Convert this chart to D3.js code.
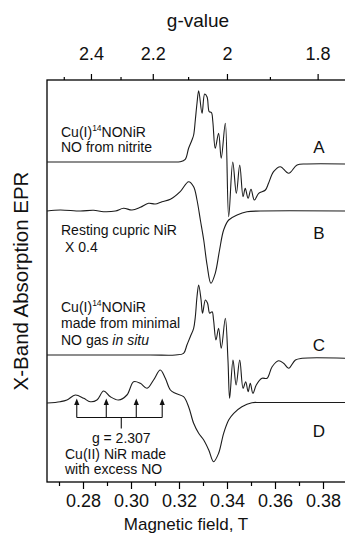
<!DOCTYPE html>
<html>
<head>
<meta charset="utf-8">
<script src="https://cdn.jsdelivr.net/npm/d3@7"></script>
<style>
  html, body { margin: 0; padding: 0; background: #fff; }
  svg { display: block; }
  text { font-family: "Liberation Sans", Arial, Helvetica, sans-serif; fill: #111; }
</style>
</head>
<body>
<svg id="chart" width="345" height="542"></svg>
<script>
// ---- data: magnetic field (T) and EPR signal (arb. units) ----
const fieldA = [0.2651,0.2955,0.3164,0.3205,0.3226,0.3240,0.3254,0.3261,0.3268,0.3275,
                0.3282,0.3296,0.3307,0.3317,0.3326,0.3335,0.3341,0.3351,0.3365,0.3376,
                0.3393,0.3407,0.3424,0.3439,0.3453,0.3467,0.3476,0.3488,0.3500,0.3514,
                0.3532,0.3560,0.3573,0.3594,0.3622,0.3657,0.3692,0.3733,0.3893];
const signalA = [0,0,0,0.03,0.27,1.37,2.2,2.7,4.2,5.87,
                 7.13,4.87,6.8,6.5,5.03,4.95,4.03,1.37,2.87,0.37,
                 3.87,-5.47,0,-3.13,-0.3,-3.47,-2.63,-3.63,-2.73,-3.8,
                 -3.13,-2.8,-2.13,-0.97,-0.47,-1.13,-0.3,-0.2,-0.2];

// resting cupric NiR, full amplitude (drawn scaled by scaleB)
const fieldB = [0.2651,0.2705,0.2789,0.2844,0.2886,0.2935,0.2969,0.3004,0.3039,0.3073,
                0.3101,0.3129,0.3164,0.3205,0.3240,0.3261,0.3275,0.3289,0.3303,0.3317,
                0.3333,0.3351,0.3369,0.3386,0.3407,0.3442,0.3483,0.3539,0.3893];
const signalB = [0,0.25,0,0.18,-0.18,0,0.68,0.25,0.93,1.93,
                 1.75,2.33,2.93,4.83,7.33,6.08,2.75,-2.25,-7.25,-13.5,
                 -18.08,-15.58,-9.75,-4.75,-2.25,-1.0,-0.18,0,0];
const scaleB = 0.4;

const fieldC = [0.2651,0.3081,0.3185,0.3219,0.3233,0.3247,0.3261,0.3268,0.3275,0.3282,
                0.3292,0.3298,0.3310,0.3319,0.3328,0.3338,0.3344,0.3354,0.3365,0.3376,
                0.3393,0.3404,0.3411,0.3425,0.3438,0.3453,0.3467,0.3478,0.3488,0.3497,
                0.3508,0.3522,0.3546,0.3567,0.3588,0.3615,0.3636,0.3657,0.3685,0.3713,0.3893];
const signalC = [0.1,0.1,0.1,0.27,1.1,1.93,2.77,3.93,5.93,7.1,
                 5.6,4.27,5.6,5.27,4.27,4.43,3.6,1.6,2.77,0.77,
                 3.77,-0.4,-4.23,-0.4,-2.9,-0.4,-3.23,-2.57,-3.57,-2.73,
                 -3.73,-2.9,-2.23,-2.23,-1.07,-0.47,-0.73,-1.23,-0.4,-0.23,-0.23];

const fieldD = [0.2651,0.2705,0.2733,0.2768,0.2803,0.2830,0.2858,0.2886,0.2914,0.2948,
                0.2983,0.3011,0.3039,0.3067,0.3094,0.3122,0.3143,0.3164,0.3185,0.3219,
                0.3240,0.3261,0.3282,0.3303,0.3324,0.3344,0.3365,0.3386,0.3407,0.3428,
                0.3462,0.3504,0.3539,0.3893];
const signalD = [-0.05,0.08,0.25,0.75,0.42,0.08,0.25,1.15,0.58,0.25,
                 0.75,2.08,1.92,1.42,2.25,3.25,2.42,1.25,0.92,0.58,
                 -0.42,-2.08,-3.08,-3.75,-4.75,-5.92,-5.08,-3.08,-1.75,-1.08,
                 -0.42,-0.02,0,0];

// vertical offsets of the stacked traces
const traceOffsets = [32.0, 27.1, 12.6, 7.95];
const traceLetters = ["A", "B", "C", "D"];

// Cu(II) hyperfine lines marked on trace D, and their g value
const hyperfineFields = [0.2774, 0.2897, 0.3022, 0.3130];
const gParallel = 2.307;

// axes
const fieldMajorTicks = [0.28, 0.30, 0.32, 0.34, 0.36, 0.38];
const fieldMinorTicks = [0.27, 0.29, 0.31, 0.33, 0.35, 0.37, 0.39];
const gMajorTicks = [2.4, 2.2, 2.0, 1.8];
const gMinorTicks = [2.5, 2.3, 2.1, 1.9];
const microwaveGHz = 9.517;

// ---- drawing ----
const svg = d3.select("#chart");
const frame = { left: 47, right: 347, top: 80, bottom: 482 };

const x = d3.scaleLinear().domain([0.265, 0.39]).range([frame.left, frame.right]);
const y = d3.scaleLinear().domain([0, 40.2]).range([frame.bottom, frame.top]);
const fieldFromG = g => 0.0714477 * microwaveGHz / g;

svg.append("defs").append("clipPath").attr("id", "plotclip")
  .append("rect")
  .attr("x", frame.left).attr("y", frame.top)
  .attr("width", frame.right - frame.left).attr("height", frame.bottom - frame.top);

const traces = [
  { f: fieldA, s: signalA, k: 1 },
  { f: fieldB, s: signalB, k: scaleB },
  { f: fieldC, s: signalC, k: 1 },
  { f: fieldD, s: signalD, k: 1 }
];

const plot = svg.append("g").attr("clip-path", "url(#plotclip)");
traces.forEach((t, i) => {
  const pts = t.f.map((f, j) => [f, traceOffsets[i] + t.k * t.s[j]]);
  const line = d3.line()
    .x(d => x(d[0])).y(d => y(d[1]))
    .curve(d3.curveCatmullRom.alpha(0.5));
  plot.append("path")
    .attr("d", line(pts))
    .attr("fill", "none")
    .attr("stroke", "#1c1c1c")
    .attr("stroke-width", 1.1)
    .attr("stroke-linejoin", "round");
});

// frame
svg.append("rect")
  .attr("x", frame.left).attr("y", frame.top)
  .attr("width", frame.right - frame.left).attr("height", frame.bottom - frame.top)
  .attr("fill", "none").attr("stroke", "#000").attr("stroke-width", 1.3);

// bottom axis (field)
const fmt2 = d3.format(".2f");
const bottomMajor = svg.append("g").attr("transform", `translate(0,${frame.bottom})`)
  .call(d3.axisBottom(x).tickValues(fieldMajorTicks).tickSize(7).tickSizeOuter(0).tickPadding(5).tickFormat(fmt2));
const bottomMinor = svg.append("g").attr("transform", `translate(0,${frame.bottom})`)
  .call(d3.axisBottom(x).tickValues(fieldMinorTicks).tickSize(4).tickSizeOuter(0).tickFormat(""));

// top axis (g value)
const gFmt = g => (Math.abs(g - 2) < 1e-9 ? "2" : d3.format(".1f")(g));
const topMajor = svg.append("g").attr("transform", `translate(0,${frame.top})`)
  .call(d3.axisTop(x).tickValues(gMajorTicks.map(fieldFromG)).tickSize(6).tickSizeOuter(0).tickPadding(14)
    .tickFormat((b, i) => gFmt(gMajorTicks[i])));
const topMinor = svg.append("g").attr("transform", `translate(0,${frame.top})`)
  .call(d3.axisTop(x).tickValues(gMinorTicks.map(fieldFromG)).tickSize(3).tickSizeOuter(0).tickFormat(""));

[bottomMajor, bottomMinor, topMajor, topMinor].forEach(g => {
  g.select(".domain").remove();
  g.selectAll(".tick line").attr("stroke", "#000").attr("stroke-width", 1.2);
  g.selectAll(".tick text")
    .attr("font-family", "Liberation Sans, Arial, sans-serif")
    .attr("font-size", 18).attr("fill", "#111");
});

// axis titles
svg.append("text").attr("x", 186).attr("y", 530).attr("text-anchor", "middle")
  .attr("font-size", 17).text("Magnetic field, T");
svg.append("text").attr("x", 198).attr("y", 27).attr("text-anchor", "middle")
  .attr("font-size", 19).text("g-value");
svg.append("text")
  .attr("transform", `translate(28,${(frame.top + frame.bottom) / 2}) rotate(-90)`)
  .attr("text-anchor", "middle").attr("font-size", 20.5).text("X-Band Absorption EPR");

// trace letters
const letterBaselines = [153, 239, 351, 437];
traceLetters.forEach((L, i) => {
  svg.append("text").attr("x", 319).attr("y", letterBaselines[i])
    .attr("text-anchor", "middle").attr("font-size", 17).text(L);
});

// sample descriptions
function cuNO(yBase) {
  const t = svg.append("text").attr("x", 61).attr("y", yBase).attr("font-size", 14);
  t.append("tspan").text("Cu(I)");
  t.append("tspan").attr("font-size", 8.5).attr("dy", -6).text("14");
  t.append("tspan").attr("dy", 6).text("NONiR");
}
function note(txt, xPos, yBase, anchor) {
  return svg.append("text").attr("x", xPos).attr("y", yBase)
    .attr("text-anchor", anchor || "start").attr("font-size", 14).text(txt);
}

cuNO(136.5);
note("NO from nitrite", 61, 151.5);

note("Resting cupric NiR", 61, 235);
note("X 0.4", 65, 251.5);

cuNO(311.5);
note("made from minimal", 61, 328);
const insitu = svg.append("text").attr("x", 61).attr("y", 345).attr("font-size", 14);
insitu.append("tspan").text("NO gas ");
insitu.append("tspan").attr("font-style", "italic").text("in situ");

// hyperfine stick diagram on trace D
const arrowTipY = 398.5, barY = 417.5, stemY = 428.5;
const centerField = (hyperfineFields[1] + hyperfineFields[2]) / 2;
const ann = svg.append("g").attr("stroke", "#111").attr("stroke-width", 1.1).attr("fill", "none");
ann.append("line")
  .attr("x1", x(hyperfineFields[0])).attr("x2", x(hyperfineFields[hyperfineFields.length - 1]))
  .attr("y1", barY).attr("y2", barY);
ann.append("line")
  .attr("x1", x(centerField)).attr("x2", x(centerField))
  .attr("y1", barY).attr("y2", stemY);
hyperfineFields.forEach(f => {
  const cx = x(f);
  ann.append("line").attr("x1", cx).attr("x2", cx).attr("y1", barY).attr("y2", arrowTipY + 5);
  svg.append("path")
    .attr("d", `M${cx},${arrowTipY} L${cx - 2.6},${arrowTipY + 6.5} L${cx + 2.6},${arrowTipY + 6.5} Z`)
    .attr("fill", "#111");
});
note(`g = ${gParallel}`, x(centerField), 442.5, "middle");
note("Cu(II) NiR made", 65, 459);
note("with excess NO", 65, 474);
</script>
</body>
</html>
